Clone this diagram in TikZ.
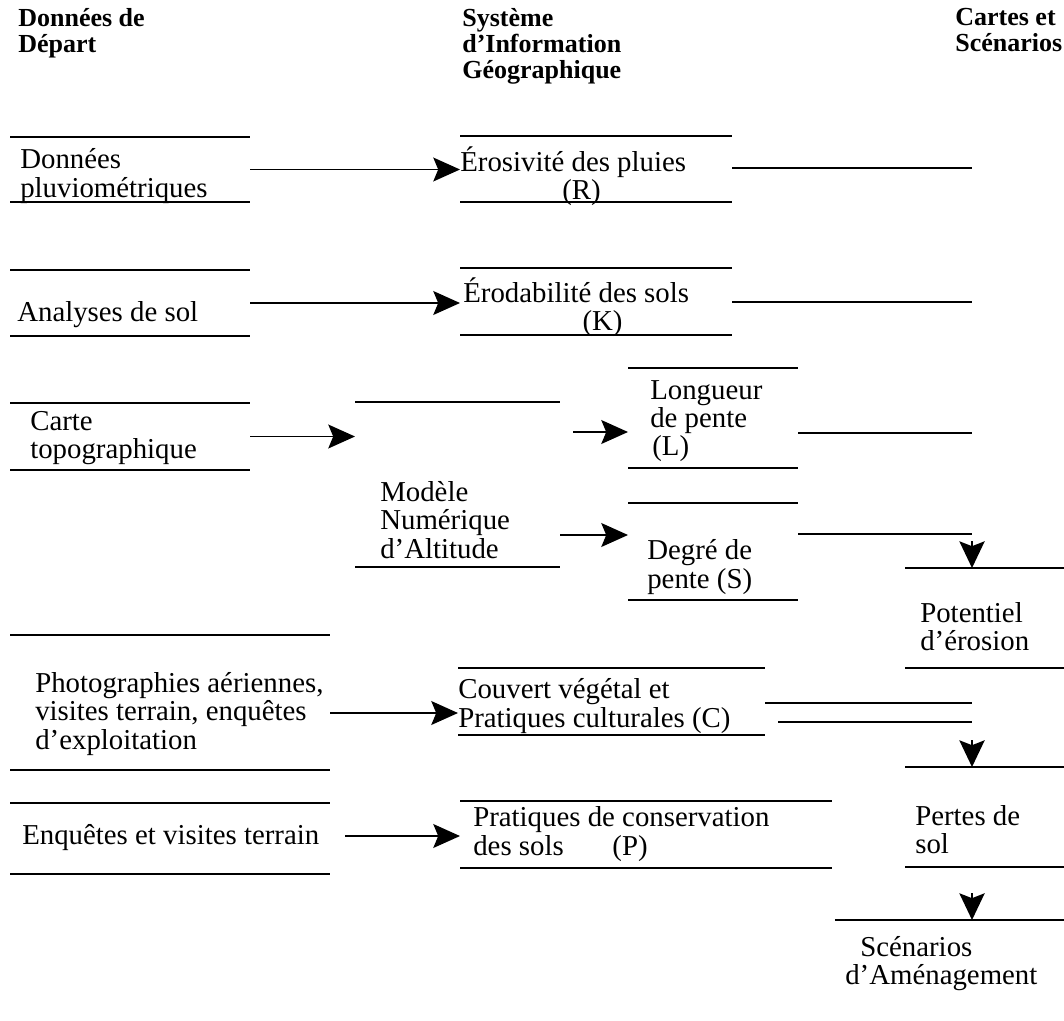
\documentclass[tikz,border=0pt]{standalone}
\usepackage{fontspec}
\setmainfont{Liberation Serif}
\usetikzlibrary{arrows.meta, calc}
\tikzset{
  box/.style  = {draw=none, inner sep=0pt, outer sep=0pt},
  rule/.style = {line width=1.1pt, draw=black},
  txt/.style  = {anchor=west, align=left, inner sep=0pt, font=\fontsize{20.5}{20}\selectfont},
  head/.style = {anchor=north west, align=left, inner sep=0pt, font=\bfseries\fontsize{18.5}{18.5}\selectfont},
  flow/.style = {-{Stealth[length=19pt, width=17pt, inset=3.5pt]}, line width=1.1pt},
  drop/.style = {-{Stealth[length=19pt, width=18pt, inset=3.5pt]}, line width=1.1pt}
}

\begin{document}
\begin{tikzpicture}[x=0.025cm, y=-0.025cm]
\useasboundingbox (0,0) rectangle (1064,1020);
\foreach \nm/\xa/\xb/\ya/\yb in {%
  dpluv/10/250/137/202, dsol/10/250/270/336, dtopo/10/250/403/470,
  dphoto/10/330/635/770, denq/10/330/803/874,
  erosiv/460/732/136/202, erodab/460/732/268/335, mna/355/560/402/567,
  lpente/628/798/368/468, dpente/628/798/503/600,
  couvert/458/765/668/735, pratiq/460/832/801/868,
  potentiel/905/1064/568/668, pertes/905/1064/767/867} {
  \node[box, minimum width={(\xb-\xa)*0.025cm}, minimum height={(\yb-\ya)*0.025cm}]
    (\nm) at ({(\xa+\xb)/2},{(\ya+\yb)/2}) {};
  \draw[rule] (\nm.north west) -- (\nm.north east) (\nm.south west) -- (\nm.south east);
}
\node[box, minimum width=5.725cm, minimum height=2.25cm] (scen) at (949.5,965) {};
\draw[rule] (scen.north west) -- (scen.north east);

\node[head] (hdep) at (18,8)  {Données de\\Départ};
\node[head] (hsig) at (462,8) {Système\\d’Information\\Géographique};
\node[head] (hcar) at (955,8) {Cartes et\\Scénarios};

\node[txt] (tpluv)    at (20,176)  {Données\\pluviométriques};
\node[txt] (tsol)     at (17,315)  {Analyses de sol};
\node[txt] (ttopo)    at (30,438)  {Carte\\topographique};
\node[txt] (tphoto)   at (35,714)  {Photographies aériennes,\\visites terrain, enquêtes\\d’exploitation};
\node[txt] (tenq)     at (22,838)  {Enquêtes et visites terrain};
\node[txt] (terosiv)  at (460,176) {Érosivité des pluies\\\hspace*{2.55cm}(R)};
\node[txt] (terodab)  at (463,307) {Érodabilité des sols\\\hspace*{2.98cm}(K)};
\node[txt] (tmna)     at (380,520) {Modèle\\Numérique\\d’Altitude};
\node[txt] (tlpente)  at (650,421) {Longueur\\de pente\\\hspace*{0.05cm}(L)};
\node[txt] (tdpente)  at (647,567) {Degré de\\pente (S)};
\node[txt] (tcouvert) at (458,706) {Couvert végétal et\\Pratiques culturales (C)};
\node[txt] (tpratiq)  at (473,834) {Pratiques de conservation\\\makebox[3.48cm][l]{des sols}(P)};
\node[txt] (tpotent)  at (920,627) {Potentiel\\d’érosion};
\node[txt] (tpertes)  at (915,830) {Pertes de\\sol};
\node[txt] (tscen)    at (845,964) {\hspace*{0.375cm}Scénarios\\d’Aménagement};

\coordinate (lin) at (600,432);
\coordinate (sin) at (600,535);
\coordinate (pin) at (400,713);
\coordinate (qin) at (400,836);
\coordinate (eR)  at (972,168);
\coordinate (kR)  at (972,302);
\coordinate (lR)  at (972,433);
\coordinate (sR)  at (972,534);
\coordinate (cR1) at (972,703);
\coordinate (cR2) at (972,722);

\draw[flow] (dpluv.east) -- (dpluv.east -| erosiv.west);
\draw[flow] (dsol.east) -- (dsol.east -| erodab.west);
\draw[flow] (dtopo.east) -- (dtopo.east -| mna.west);
\draw[flow, shorten <=0.33cm] (lin -| mna.east) -- (lin -| lpente.west);
\draw[flow] (sin -| mna.east) -- (sin -| dpente.west);
\draw[flow] (pin -| dphoto.east) -- (pin -| couvert.west);
\draw[flow, shorten <=0.375cm] (qin -| denq.east) -- (qin -| pratiq.west);

\draw[rule] (erosiv.east |- eR) -- (eR);
\draw[rule] (erodab.east |- kR) -- (kR);
\draw[rule] (lpente.east |- lR) -- (lR);
\draw[rule] (dpente.east |- sR) -- (sR);
\draw[rule] (couvert.east |- cR1) -- (cR1);
\draw[rule, shorten <=0.325cm] (couvert.east |- cR2) -- (cR2);

\draw[drop] ($(sR |- potentiel.north)+(0,-27)$) -- (sR |- potentiel.north);
\draw[drop] ($(cR2 |- pertes.north)+(0,-27)$) -- (cR2 |- pertes.north);
\draw[drop] ($(cR2 |- scen.north)+(0,-27)$) -- (cR2 |- scen.north);
\end{tikzpicture}
\end{document}
